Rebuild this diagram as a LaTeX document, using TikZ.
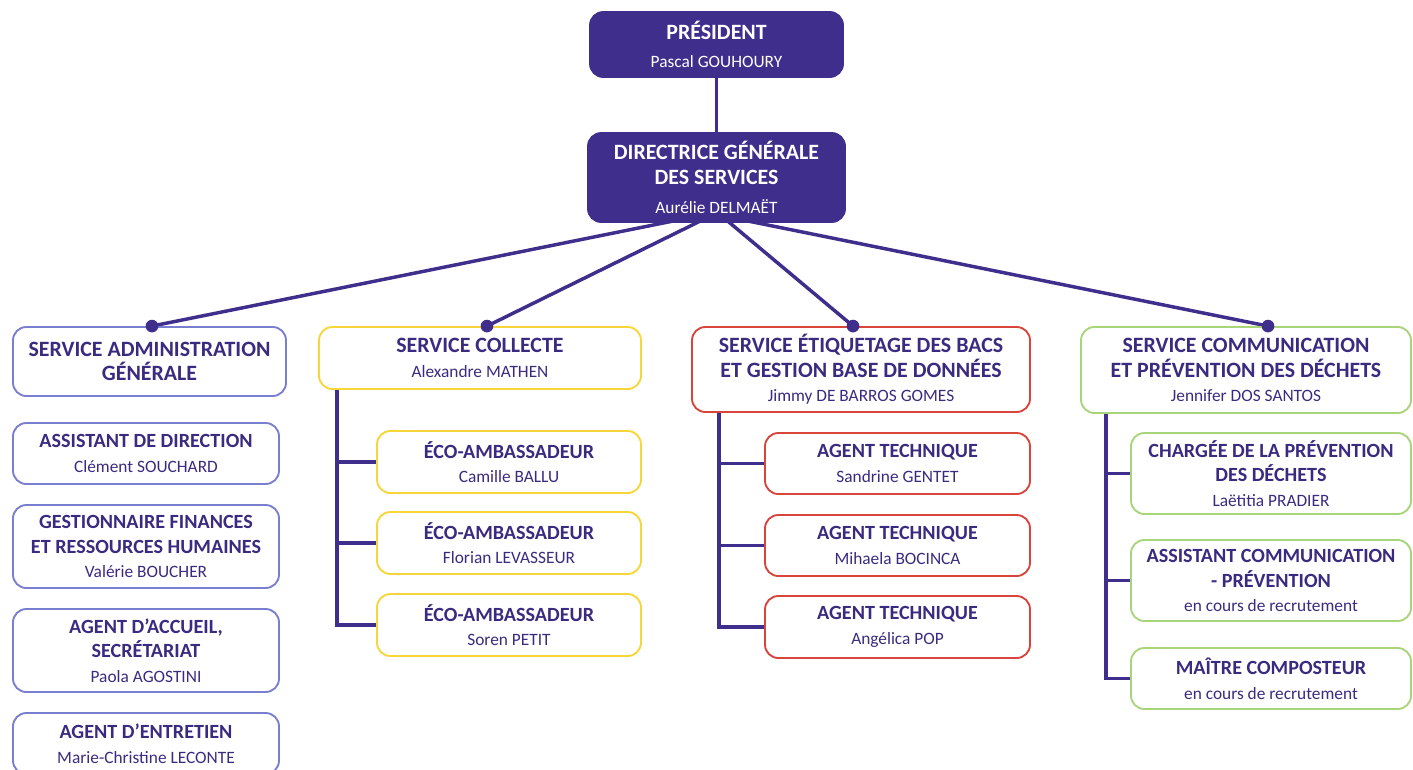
\documentclass[tikz,border=0pt]{standalone}
\usepackage{fontspec}
\setmainfont{Carlito}
\usetikzlibrary{calc}
\definecolor{dk}{HTML}{3F2E8C}
\definecolor{txt}{HTML}{3B2B80}
\definecolor{lav}{HTML}{7A7ECF}
\definecolor{yel}{HTML}{F7D63A}
\definecolor{red1}{HTML}{D8453D}
\definecolor{grn}{HTML}{A9D57A}
\pgfdeclarelayer{bg}
\pgfsetlayers{bg,main}
\newcommand{\nm}[1]{{\mdseries\fontsize{13}{18.5}\selectfont #1}}
\begin{document}
\begin{tikzpicture}[x=0.75pt,y=-0.75pt,
  bx/.style 2 args={minimum width=#1*0.75pt, minimum height=#2*0.75pt},
  card/.style={rounded corners=10pt, line width=1.4pt, align=center, inner sep=0pt,
    text=txt, fill=white, font=\bfseries\fontsize{16.4}{18.5}\selectfont},
  sub/.style={font=\bfseries\fontsize{15.1}{18.5}\selectfont},
  dark/.style={card, draw=dk, fill=dk, text=white},
  admc/.style={card, draw=lav},
  colc/.style={card, draw=yel},
  etic/.style={card, draw=red1},
  comc/.style={card, draw=grn},
  conn/.style={draw=dk, line width=2.6pt},
  dot/.style={circle, fill=dk, inner sep=0pt, minimum size=9.5pt}]
\useasboundingbox (0,0) rectangle (1413,769);

% top
\node[dark,bx={253}{65}] (pres) at (716.5,44.5) {PRÉSIDENT\\[3pt]\nm{Pascal GOUHOURY}};
\node[dark,bx={257}{89}] (dg) at (716.5,177.5) {DIRECTRICE GÉNÉRALE\\DES SERVICES\\[3pt]\nm{Aurélie DELMAËT}};

% services
\node[admc,bx={273}{69}] (adm) at (149.5,361.5) {SERVICE ADMINISTRATION\\GÉNÉRALE};
\node[colc,bx={322}{62}] (col) at (480,358) {SERVICE COLLECTE\\[0pt]\nm{Alexandre MATHEN}};
\node[etic,bx={338}{85}] (eti) at (861,369.5) {SERVICE ÉTIQUETAGE DES BACS\\ET GESTION BASE DE DONNÉES\\[0pt]\nm{Jimmy DE BARROS GOMES}};
\node[comc,bx={330}{86}] (com) at (1246,370) {SERVICE COMMUNICATION\\ET PRÉVENTION DES DÉCHETS\\[0pt]\nm{Jennifer DOS SANTOS}};

% admin column
\node[admc,sub,bx={266}{61}] (a1) at (146,453.5) {ASSISTANT DE DIRECTION\\[0pt]\nm{Clément SOUCHARD}};
\node[admc,sub,bx={266}{83}] (a2) at (146,546.5) {GESTIONNAIRE FINANCES\\ET RESSOURCES HUMAINES\\[0pt]\nm{Valérie BOUCHER}};
\node[admc,sub,bx={266}{83}] (a3) at (146,650.5) {AGENT D’ACCUEIL,\\SECRÉTARIAT\\[0pt]\nm{Paola AGOSTINI}};
\node[admc,sub,bx={266}{61}] (a4) at (146,743.5) {AGENT D’ENTRETIEN\\[0pt]\nm{Marie-Christine LECONTE}};

% collecte
\node[colc,sub,bx={264}{62}] (c1) at (509,462) {ÉCO-AMBASSADEUR\\[0pt]\nm{Camille BALLU}};
\node[colc,sub,bx={264}{62}] (c2) at (509,543) {ÉCO-AMBASSADEUR\\[0pt]\nm{Florian LEVASSEUR}};
\node[colc,sub,bx={264}{62}] (c3) at (509,625) {ÉCO-AMBASSADEUR\\[0pt]\nm{Soren PETIT}};

% etiquetage
\node[etic,sub,bx={265}{61}] (e1) at (897.5,463.5) {AGENT TECHNIQUE\\[0pt]\nm{Sandrine GENTET}};
\node[etic,sub,bx={265}{61}] (e2) at (897.5,545.5) {AGENT TECHNIQUE\\[0pt]\nm{Mihaela BOCINCA}};
\node[etic,sub,bx={265}{62}] (e3) at (897.5,627) {AGENT TECHNIQUE\\[0pt]\nm{Angélica POP}};

% communication
\node[comc,sub,bx={280}{81}] (m1) at (1271,473.5) {CHARGÉE DE LA PRÉVENTION\\DES DÉCHETS\\[0pt]\nm{Laëtitia PRADIER}};
\node[comc,sub,bx={280}{81}] (m2) at (1271,580.5) {ASSISTANT COMMUNICATION\\- PRÉVENTION\\[0pt]\nm{en cours de recrutement}};
\node[comc,sub,bx={280}{61}] (m3) at (1271,678.5) {MAÎTRE COMPOSTEUR\\[0pt]\nm{en cours de recrutement}};

% anchor points
\coordinate (f1) at ($(dg.south)+(-43,-2)$);
\coordinate (f2) at ($(dg.south)+(-16,-2)$);
\coordinate (f3) at ($(dg.south)+(11,-2)$);
\coordinate (f4) at ($(dg.south)+(31,-2)$);
\node[dot] (d1) at ($(adm.north)+(2.5,0)$) {};
\node[dot] (d2) at ($(col.north)+(7,0)$) {};
\node[dot] (d3) at ($(eti.north)+(-8,0)$) {};
\node[dot] (d4) at ($(com.north)+(22,0)$) {};
\coordinate (ct) at ($(col.south west)+(19,0)$);
\coordinate (et) at ($(eti.south west)+(28,0)$);
\coordinate (mt) at ($(com.south west)+(26,0)$);

\begin{pgfonlayer}{bg}
\draw[conn] (pres.south) -- (dg.north);
\draw[conn] (f1) -- (d1.center);
\draw[conn] (f2) -- (d2.center);
\draw[conn] (f3) -- (d3.center);
\draw[conn] (f4) -- (d4.center);
\draw[conn] (ct) |- (c3.west);
\draw[conn] (ct |- c1.west) -- (c1.west);
\draw[conn] (ct |- c2.west) -- (c2.west);
\draw[conn] (et) |- (e3.west);
\draw[conn] (et |- e1.west) -- (e1.west);
\draw[conn] (et |- e2.west) -- (e2.west);
\draw[conn] (mt) |- (m3.west);
\draw[conn] (mt |- m1.west) -- (m1.west);
\draw[conn] (mt |- m2.west) -- (m2.west);
\end{pgfonlayer}
\end{tikzpicture}
\end{document}
